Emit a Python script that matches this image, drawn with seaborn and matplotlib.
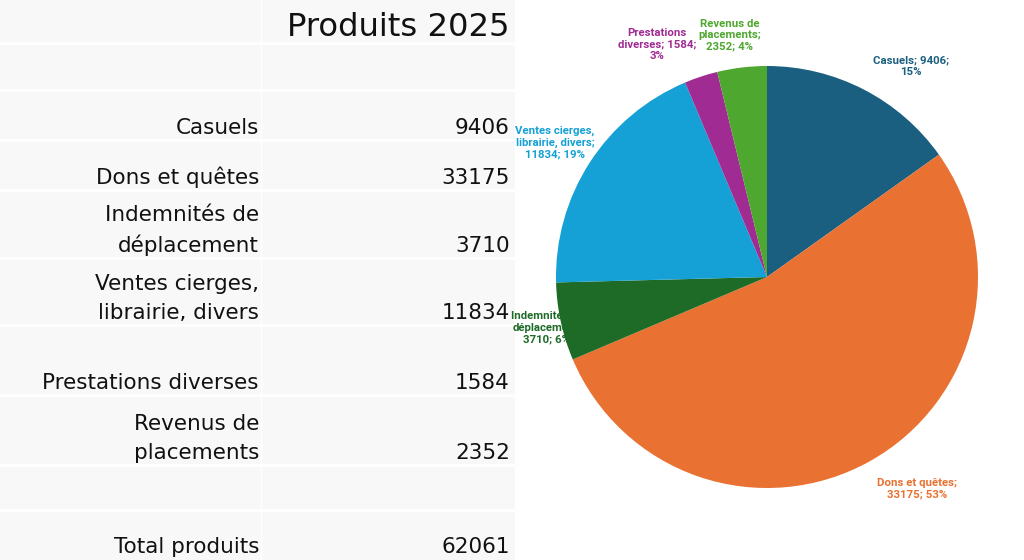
import numpy as np
import matplotlib.pyplot as plt
import seaborn as sns

# données
categories = ["Casuels", "Dons et quêtes", "Indemnités de déplacement",
              "Ventes cierges, librairie, divers", "Prestations diverses",
              "Revenus de placements"]
valeurs = [9406, 33175, 3710, 11834, 1584, 2352]
total = 62061
titre = "Produits 2025"

# libellés du tableau (avec retours à la ligne comme dans le tableur)
lignes_tableau = ["Casuels", "Dons et quêtes", "Indemnités de\ndéplacement",
                  "Ventes cierges,\nlibrairie, divers", "Prestations diverses",
                  "Revenus de\nplacements"]
libelles_pie = ["Casuels; 9406;\n15%", "Dons et quêtes;\n33175; 53%",
                "Indemnités de\ndéplacement;\n3710; 6%",
                "Ventes cierges,\nlibrairie, divers;\n11834; 19%",
                "Prestations\ndiverses; 1584;\n3%",
                "Revenus de\nplacements;\n2352; 4%"]

couleurs = ["#1a5f80", "#e97132", "#1e6b28", "#15a0d6", "#a02b93", "#4ea72e"]

sns.set_theme(style="white")
plt.rcParams['font.family'] = ['DejaVu Sans']

fig = plt.figure(figsize=(10.24, 5.6), dpi=100)
fig.patch.set_facecolor("white")

# ---- tableau (gauche) ----
W, H = 1024, 560
tab = fig.add_axes([0, 0, 515 / W, 1])
tab.set_xlim(0, 515)
tab.set_ylim(H, 0)
tab.axis("off")
tab.axhspan(0, H, color="#f8f8f8", zorder=0)

bords = [0, 43, 90, 140, 190, 258, 325, 395, 465, 510, 560]
for b in bords[1:-1]:
    tab.axhline(b, color="white", lw=2, zorder=1)
tab.axvline(261, color="white", lw=1, zorder=1)

col_g, col_d = 259, 510
fs = 15.5
tab.text(col_d, 36, titre, ha="right", va="baseline", fontsize=23.2, color="#111111")
rangs = [2, 3, 4, 5, 6, 7]
for nom, val, r in zip(lignes_tableau, valeurs, rangs):
    y = bords[r + 1] - 6
    tab.text(col_g, y, nom, ha="right", va="baseline", fontsize=fs,
             color="#111111", linespacing=1.55)
    tab.text(col_d, y, str(val), ha="right", va="baseline", fontsize=fs, color="#111111")
tab.text(col_g, bords[-1] - 7, "Total produits", ha="right", va="baseline", fontsize=fs, color="#111111")
tab.text(col_d, bords[-1] - 7, str(total), ha="right", va="baseline", fontsize=fs, color="#111111")

# ---- camembert (droite) ----
R = 211
cx, cy = 767, 277
demi = 250
ax = fig.add_axes([(cx - demi) / W, (H - cy - demi) / H, 2 * demi / W, 2 * demi / H])
ax.axis("off")
ax.patch.set_alpha(0)

wedges, _ = ax.pie(valeurs, colors=couleurs, startangle=90, counterclock=False,
                   radius=1, wedgeprops=dict(linewidth=0))
for w in wedges:
    w.set_zorder(3)
lim = demi / R
ax.set_xlim(-lim, lim)
ax.set_ylim(-lim, lim)

# placement des étiquettes: distance et décalage angulaire par part
dist = [1.21, 1.23, 1.07, 1.19, 1.22, 1.16]
decal = [-7, 6, 0.7, 0.4, 7, 2]
for w, lab, c, d, o in zip(wedges, libelles_pie, couleurs, dist, decal):
    ang = np.deg2rad((w.theta1 + w.theta2) / 2 + o)
    ax.text(d * np.cos(ang), d * np.sin(ang), lab, ha="center", va="center",
            fontsize=8.2, fontweight="bold", color=c, linespacing=1.2,
            family=['Roboto', 'DejaVu Sans'], zorder=2, clip_on=False)

fig.savefig("out.png", dpi=100, facecolor="white")
